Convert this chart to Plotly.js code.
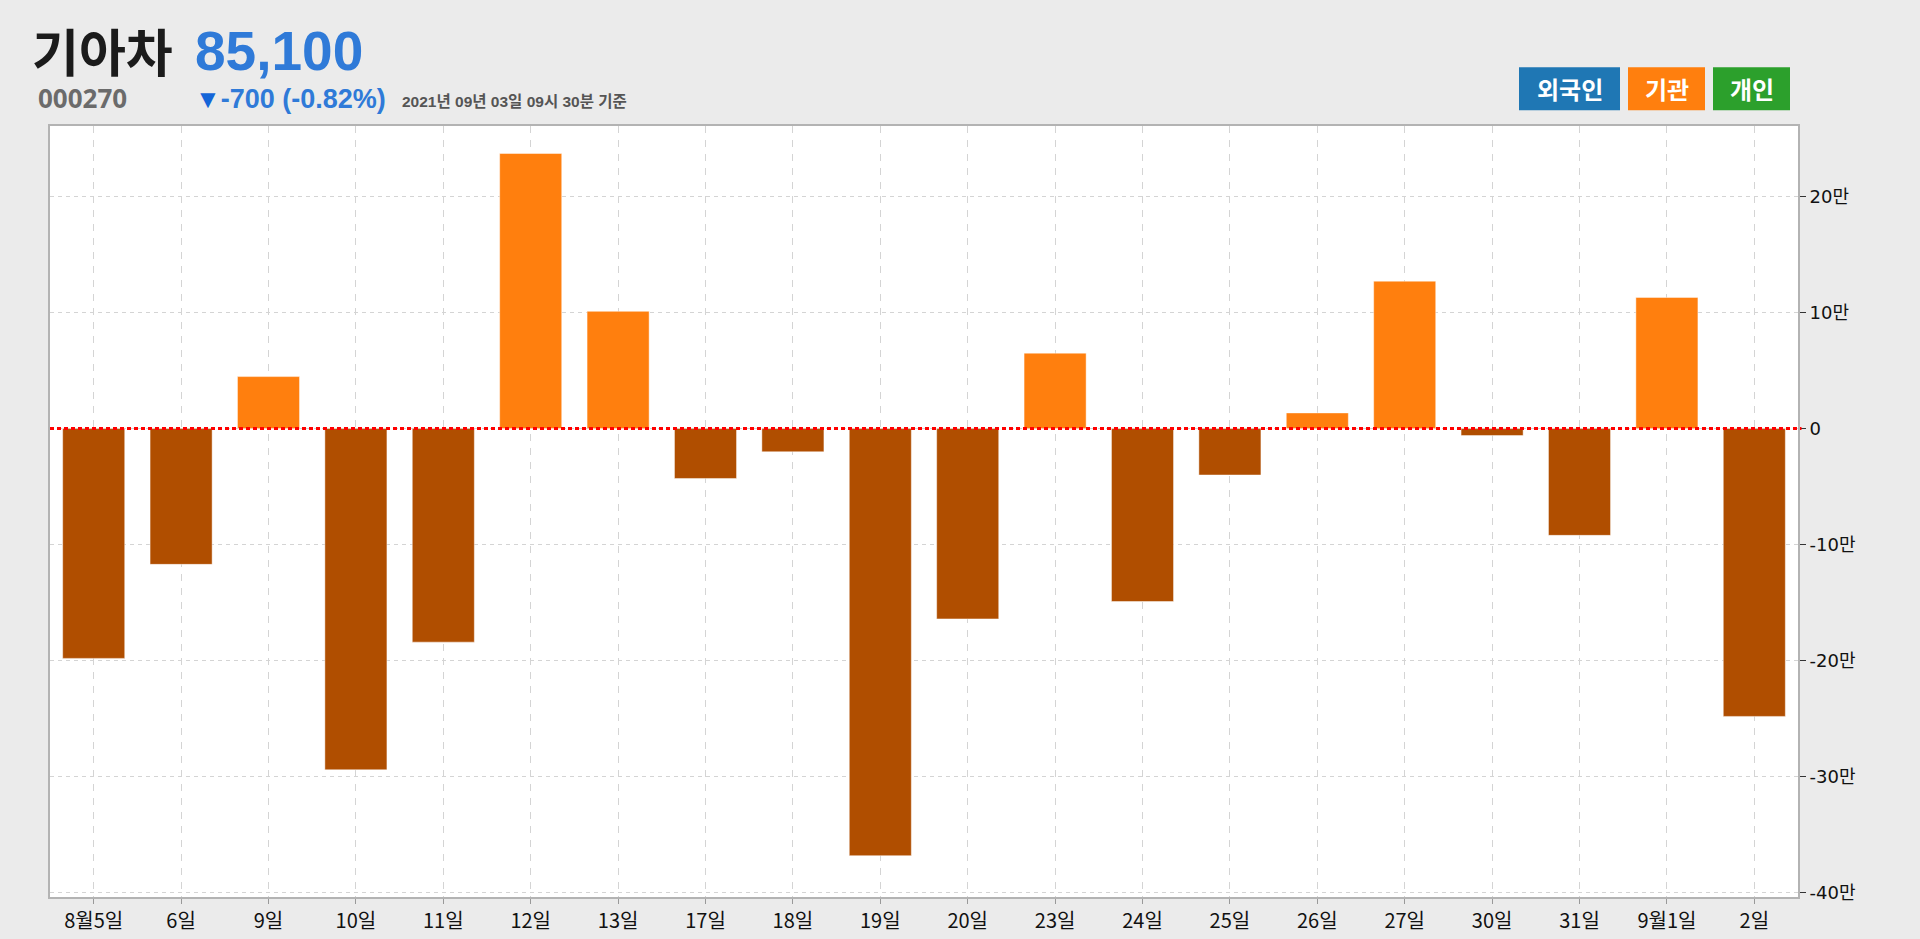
<!DOCTYPE html>
<html>
<head>
<meta charset="utf-8">
<script src="https://cdn.plot.ly/plotly-3.0.1.min.js"></script>
<style>
  html, body { margin: 0; padding: 0; background: #ebebeb; }
  #chart { width: 1920px; height: 939px; }
</style>
</head>
<body>
<div id="chart"></div>
<script>
// ---- data ----
const categories = ['8월5일','6일','9일','10일','11일','12일','13일','17일','18일','19일','20일','23일','24일','25일','26일','27일','30일','31일','9월1일','2일'];
const institutionNet = [-198000, -117000, 44800, -294000, -184000, 237000, 101000, -43000, -20000, -368000,
                        -164000, 65000, -149000, -40000, 13500, 127000, -6000, -92000, 113000, -248000];
const yTickVals = [-400000, -300000, -200000, -100000, 0, 100000, 200000];
const yTickText = ['-40만', '-30만', '-20만', '-10만', '0', '10만', '20만'];
const stockName = '기아차';
const stockCode = '000270';
const price = '85,100';
const changeMark = '▼';
const change = '-700 (-0.82%)';
const asOf = '2021년 09년 03일 09시 30분 기준';
const investorButtons = ['외국인', '기관', '개인'];

// ---- styling / layout helpers ----
const W = 1920, H = 939;
const L = 50, R = 1798, T = 125.7, B = 897.3;
const px = x => (x - L) / (R - L);
const py = y => (B - y) / (B - T);
const yRange = [-403600, 260700];

const barColors = institutionNet.map(v => v >= 0 ? '#ff7f0e' : '#b04e00');

const trace = {
  type: 'bar',
  x: categories,
  y: institutionNet,
  marker: { color: barColors, line: { color: 'rgba(255,255,255,0.45)', width: 1 } },
  width: 0.71,
  hoverinfo: 'x+y'
};

const KFONT = '"Noto Sans CJK KR", "Noto Sans", sans-serif';
const HFONT = '"Liberation Sans", "Noto Sans CJK KR", sans-serif';
const NFONT = '"Noto Sans", "Noto Sans CJK KR", sans-serif';

const btnBoxes = [[1519, 1620, '#1f77b4'], [1628, 1705, '#ff7f0e'], [1713, 1790, '#2ca02c']];
const shapes = [
  { type: 'line', xref: 'paper', yref: 'y', x0: 0, x1: 1.002, y0: 0, y1: 0,
    line: { color: '#ff0000', width: 3, dash: '4px,3px' }, layer: 'above' }
];
function label(text, x, y, size, color, fam) {
  return { text: text, x: px(x), y: py(y), xref: 'paper', yref: 'paper',
    xanchor: 'left', yanchor: 'middle', showarrow: false, borderpad: 0,
    font: { family: fam, size: size, color: color } };
}
const annotations = [
  label('<b>' + stockName + '</b>', 31, 54, 51, '#1b1b1b', HFONT),
  label('<b>' + price + '</b>', 194, 51, 55, '#2f7ad8', HFONT),
  label('<b>' + stockCode + '</b>', 37, 98, 26, '#6b6b6b', NFONT),
  label('<span style="font-size:26px;color:#1565d8">' + changeMark + '</span><b>' + change + '</b>', 194, 99, 27, '#2f7ad8', HFONT),
  label('<b>' + asOf + '</b>', 401, 101, 15.5, '#555555', HFONT)
];
btnBoxes.forEach((b, i) => {
  shapes.push({ type: 'rect', xref: 'paper', yref: 'paper', x0: px(b[0]), x1: px(b[1]), y0: py(110), y1: py(67),
    fillcolor: b[2], line: { width: 0 }, layer: 'above' });
  annotations.push({ text: '<b>' + investorButtons[i] + '</b>', x: px((b[0] + b[1]) / 2), y: py(88.5),
    xref: 'paper', yref: 'paper', xanchor: 'center', yanchor: 'middle', showarrow: false,
    font: { family: KFONT, size: 24, color: '#ffffff' } });
});

const layout = {
  width: W, height: H,
  paper_bgcolor: '#ebebeb',
  plot_bgcolor: '#ffffff',
  margin: { l: L, r: W - R, t: T, b: H - B, pad: 0 },
  showlegend: false,
  bargap: 0.29,
  xaxis: {
    type: 'category',
    range: [-0.5, categories.length - 0.5],
    showgrid: true, gridcolor: '#d4d4d4', griddash: '7px,7px', gridwidth: 1,
    showline: true, linecolor: '#b3b3b3', linewidth: 2, mirror: true,
    ticks: 'outside', ticklen: 5, tickcolor: '#999999', tickwidth: 1,
    tickfont: { family: KFONT, size: 20, color: '#111111' },
    zeroline: false, fixedrange: true
  },
  yaxis: {
    side: 'right',
    range: yRange,
    tickvals: yTickVals, ticktext: yTickText,
    showgrid: true, gridcolor: '#d4d4d4', griddash: '4px,4px', gridwidth: 1,
    showline: true, linecolor: '#b3b3b3', linewidth: 2, mirror: true,
    ticks: 'outside', ticklen: 6, tickcolor: '#333333', tickwidth: 1,
    tickfont: { family: '"DejaVu Sans", ' + KFONT, size: 18, color: '#111111' },
    zeroline: false, fixedrange: true
  },
  shapes: shapes,
  annotations: annotations
};

Plotly.newPlot('chart', [trace], layout, { displayModeBar: false, staticPlot: true });
</script>
</body>
</html>
